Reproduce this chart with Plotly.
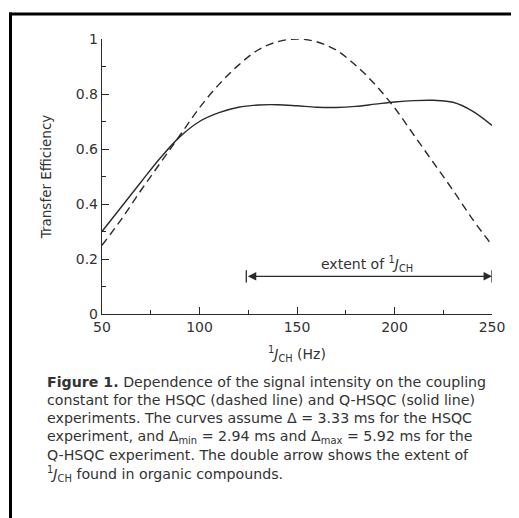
import plotly.graph_objects as go

# coupling constant (Hz)
j_hz = [50, 60, 70, 80, 90, 100, 110, 120, 130, 140, 150,
        160, 170, 180, 190, 200, 210, 220, 230, 240, 250]
# HSQC, dashed
hsqc = [0.25, 0.345, 0.45, 0.55, 0.65, 0.75, 0.835, 0.905, 0.96, 0.99, 1.0,
        0.99, 0.96, 0.905, 0.835, 0.75, 0.65, 0.55, 0.45, 0.345, 0.25]
# Q-HSQC, solid
qhsqc = [0.30, 0.39, 0.48, 0.568, 0.645, 0.70, 0.732, 0.752, 0.760, 0.761, 0.757,
         0.752, 0.751, 0.755, 0.763, 0.771, 0.776, 0.777, 0.770, 0.738, 0.686]

x_ticks = [50, 100, 150, 200, 250]
x_tick_text = ["50", "100", "150", "200", "250"]
y_ticks = [0, 0.2, 0.4, 0.6, 0.8, 1]
y_tick_text = ["0", "0.2", "0.4", "0.6", "0.8", "1"]

extent_start, extent_end, extent_y = 124, 250, 0.137

caption = [
    "<b>Figure 1.</b> Dependence of the signal intensity on the coupling",
    "constant for the HSQC (dashed line) and Q-HSQC (solid line)",
    "experiments. The curves assume \u0394 = 3.33 ms for the HSQC",
    "experiment, and \u0394<sub>min</sub> = 2.94 ms and \u0394<sub>max</sub> = 5.92 ms for the",
    "Q-HSQC experiment. The double arrow shows the extent of",
    "<sup>1</sup><i>J</i><sub>CH</sub> found in organic compounds.",
]

W, H = 519, 518
OFF = 8  # the page body adds an 8px margin around the plot div
L, T = 102 - OFF, 39 - OFF
R, B = W - (492 - OFF), H - (314 - OFF)
PW, PH = W - L - R, H - T - B
FONT = "DejaVu Sans, Verdana, sans-serif"
INK = "#2a2a2a"
TXT = "#333333"


def px(x):
    return (x - OFF - L) / PW


def py(y):
    return (H - B - (y - OFF)) / PH


fig = go.Figure()
fig.add_scatter(x=j_hz, y=hsqc, mode="lines", line_shape="spline",
                line=dict(color=INK, width=1.4, dash="8px,5px"), name="HSQC")
fig.add_scatter(x=j_hz, y=qhsqc, mode="lines", line_shape="spline",
                line=dict(color=INK, width=1.4), name="Q-HSQC")

# double arrow with end bars
fig.add_annotation(x=extent_end, y=extent_y, ax=extent_start, ay=extent_y,
                   xref="x", yref="y", axref="x", ayref="y", text="",
                   showarrow=True, arrowhead=2, startarrowhead=2, arrowside="end+start",
                   arrowsize=1.3, startarrowsize=1.3, arrowwidth=1.3, arrowcolor=INK)
for xe in (extent_start, extent_end):
    fig.add_shape(type="line", xref="x", yref="y", x0=xe, x1=xe,
                  y0=extent_y - 0.022, y1=extent_y + 0.022, line=dict(color=INK, width=1.3))
fig.add_annotation(x=186, y=0.182, xref="x", yref="y", showarrow=False,
                   text="extent of <sup>1</sup><i>J</i><sub>CH</sub>",
                   font=dict(size=14, color=TXT, family=FONT))

# caption
cap_y = [382, 400, 418, 437, 455, 474]
for line, yy in zip(caption, cap_y):
    fig.add_annotation(x=px(45), y=py(yy), xref="paper", yref="paper",
                       xanchor="left", yanchor="middle", showarrow=False, align="left",
                       text=line, font=dict(size=14.2, color=TXT, family=FONT))

# frame (top and left edge)
fig.add_shape(type="line", xref="paper", yref="paper", x0=px(9), x1=px(540),
              y0=py(14), y1=py(14), line=dict(color="black", width=3))
fig.add_shape(type="line", xref="paper", yref="paper", x0=px(10.5), x1=px(10.5),
              y0=py(12.5), y1=py(540), line=dict(color="black", width=3))

axis_common = dict(showgrid=False, zeroline=False, showline=True, linecolor=INK, linewidth=1.4,
                   ticks="inside", ticklen=7, tickwidth=1.3, tickcolor=INK,
                   tickfont=dict(size=14, color=TXT, family=FONT))
fig.update_xaxes(range=[50, 250], tickmode="array", tickvals=x_ticks, ticktext=x_tick_text,
                 minor=dict(ticks="inside", dtick=25, tick0=50, ticklen=4, tickcolor=INK),
                 title=dict(text="<sup>1</sup><i>J</i><sub>CH</sub> (Hz)", standoff=15,
                            font=dict(size=14, color=TXT, family=FONT)),
                 **axis_common)
fig.update_yaxes(range=[0, 1], tickmode="array", tickvals=y_ticks, ticktext=y_tick_text,
                 minor=dict(ticks="inside", dtick=0.1, tick0=0, ticklen=4, tickcolor=INK),
                 title=dict(text="Transfer Efficiency", standoff=21,
                            font=dict(size=13.5, color=TXT, family=FONT)),
                 **axis_common)
fig.update_layout(width=W, height=H, margin=dict(l=L, r=R, t=T, b=B, autoexpand=False),
                  paper_bgcolor="white", plot_bgcolor="white", showlegend=False,
                  font=dict(family=FONT, color=TXT))
fig.write_html("out.html", config={"displayModeBar": False})
